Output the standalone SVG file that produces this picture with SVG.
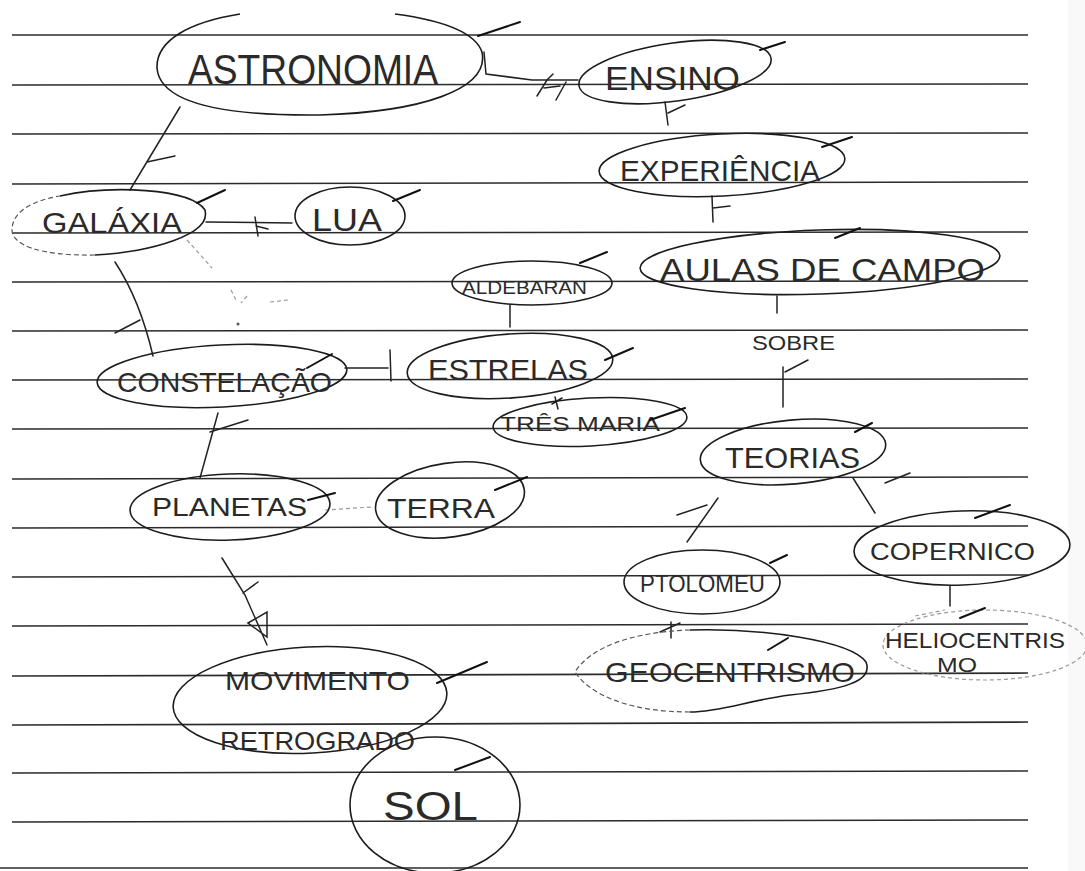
<svg xmlns="http://www.w3.org/2000/svg" width="1085" height="871" viewBox="0 0 1085 871">
<style>
.rule{stroke:#2b2b2b;stroke-width:1.7}
.node{fill:none;stroke:#1c1c1c;stroke-width:1.6}
.dash{fill:none;stroke:#555;stroke-width:1.2;stroke-dasharray:5 3}
.conn{fill:none;stroke:#222;stroke-width:1.5;stroke-linecap:round}
.faint{fill:none;stroke:#9a9a9a;stroke-width:1.2;stroke-dasharray:4 3}
.tick{fill:none;stroke:#111;stroke-width:2;stroke-linecap:round}
.lbl{font-family:"Liberation Sans",Arial,sans-serif;fill:#2a2a2a}
</style>
<rect width="1085" height="871" fill="#ffffff"/>
<rect x="1068" y="0" width="17" height="871" fill="#f9f9f9"/>
<g id="rules">
<line class="rule" x1="12" y1="35" x2="1028" y2="35"/>
<line class="rule" x1="12" y1="85" x2="1028" y2="84"/>
<line class="rule" x1="12" y1="134" x2="1028" y2="133"/>
<line class="rule" x1="12" y1="184" x2="1028" y2="182"/>
<line class="rule" x1="12" y1="233" x2="1028" y2="232"/>
<line class="rule" x1="12" y1="282" x2="1028" y2="281"/>
<line class="rule" x1="12" y1="331" x2="1028" y2="330"/>
<line class="rule" x1="12" y1="380" x2="1028" y2="379"/>
<line class="rule" x1="12" y1="429" x2="1028" y2="428"/>
<line class="rule" x1="12" y1="479" x2="1028" y2="477"/>
<line class="rule" x1="12" y1="528" x2="1028" y2="526"/>
<line class="rule" x1="12" y1="577" x2="1028" y2="575"/>
<line class="rule" x1="12" y1="626" x2="1028" y2="624"/>
<line class="rule" x1="12" y1="676" x2="1028" y2="673"/>
<line class="rule" x1="12" y1="725" x2="1028" y2="722"/>
<line class="rule" x1="12" y1="773" x2="1028" y2="771"/>
<line class="rule" x1="12" y1="822" x2="1028" y2="820"/>
<line class="rule" x1="0" y1="868" x2="1028" y2="868"/>
</g>
<g id="connectors">
<path class="conn" d="M484,52 L486,74 L532,80 L578,80"/>
<path class="conn" d="M537,96 L547,80 L553,74 M544,88 L560,86 M556,100 L566,82"/>
<path class="conn" d="M665,102 L668,125 M668,113 L685,105"/>
<path class="conn" d="M712,196 L713,222 M713,208 L730,206"/>
<path class="conn" d="M180,107 L130,190 M147,162 L175,156"/>
<path class="conn" d="M206,222 L292,223"/>
<path class="conn" d="M255,217 L258,236 M256,226 L268,229"/>
<path class="conn" d="M115,262 Q140,300 153,356 M115,333 L140,320"/>
<path class="faint" d="M187,240 L212,268"/>
<path class="faint" d="M231,290 L236,300 M247,296 L241,303 M270,302 L288,300"/>
<circle cx="238" cy="324" r="1.5" fill="#555"/>
<path class="conn" d="M345,368 L388,368 M390,350 L391,381"/>
<path class="conn" d="M510,305 L510,327"/>
<path class="conn" d="M555,397 L558,409 M552,404 L562,398"/>
<path class="conn" d="M777,296 L777,313"/>
<path class="conn" d="M783,367 L783,407 M785,372 L808,360"/>
<path class="conn" d="M853,478 L875,513 M885,483 L910,473"/>
<path class="conn" d="M718,498 L687,542 M677,515 L707,505"/>
<path class="conn" d="M950,586 L950,606"/>
<path class="conn" d="M671,622 L671,638 M660,632 L680,623"/>
<path class="conn" d="M218,413 L200,478 M210,432 L248,420"/>
<path class="faint" d="M325,510 L372,507"/>
<path class="conn" d="M222,558 L245,595 L267,645 M243,593 L258,582 M248,623 L267,612 L267,637 Z"/>
</g>
<g id="astronomia">
<path class="node" d="M482,52 C490,90 420,112 320,115 C230,116 160,105 157,68 C156,40 190,22 240,14 M395,14 C440,20 475,32 482,52"/>
<text class="lbl" x="188" y="84" font-size="42" textLength="250" lengthAdjust="spacingAndGlyphs">ASTRONOMIA</text>
<path class="tick" d="M478,36 L520,22"/>
</g>
<g id="ensino">
<ellipse class="node" cx="675" cy="72" rx="97" ry="29" transform="rotate(-8 675 72)"/>
<text class="lbl" x="605" y="90" font-size="34" textLength="135" lengthAdjust="spacingAndGlyphs">ENSINO</text>
<path class="tick" d="M760,50 L785,42"/>
</g>
<g id="experiencia">
<ellipse class="node" cx="722" cy="165" rx="123" ry="31" transform="rotate(-3 722 165)"/>
<text class="lbl" x="620" y="181" font-size="30" textLength="200" lengthAdjust="spacingAndGlyphs">EXPERIÊNCIA</text>
<path class="tick" d="M822,147 L852,137"/>
</g>
<g id="aulas-de-campo">
<ellipse class="node" cx="820" cy="262" rx="180" ry="32" transform="rotate(-2 820 262)"/>
<text class="lbl" x="660" y="281" font-size="32" textLength="325" lengthAdjust="spacingAndGlyphs">AULAS DE CAMPO</text>
<path class="tick" d="M835,238 L860,228"/>
</g>
<g id="aldebaran">
<ellipse class="node" cx="532" cy="283" rx="80" ry="22"/>
<text class="lbl" x="462" y="294" font-size="18" textLength="125" lengthAdjust="spacingAndGlyphs">ALDEBARAN</text>
<path class="tick" d="M580,263 L607,252"/>
</g>
<g id="galaxia">
<path class="node" d="M60,196 C110,185 190,188 205,210 C212,235 150,252 95,255"/>
<path class="dash" d="M95,255 C40,256 10,245 12,228 C14,210 35,200 60,196"/>
<text class="lbl" x="42" y="233" font-size="30" textLength="140" lengthAdjust="spacingAndGlyphs">GALÁXIA</text>
<path class="tick" d="M197,203 L225,190"/>
</g>
<g id="lua">
<ellipse class="node" cx="350" cy="216" rx="55" ry="29"/>
<text class="lbl" x="312" y="231" font-size="32" textLength="70" lengthAdjust="spacingAndGlyphs">LUA</text>
<path class="tick" d="M393,201 L420,190"/>
</g>
<g id="constelacao">
<ellipse class="node" cx="222" cy="376" rx="125" ry="31" transform="rotate(-3 222 376)"/>
<text class="lbl" x="117" y="392" font-size="28" textLength="215" lengthAdjust="spacingAndGlyphs">CONSTELAÇÃO</text>
<path class="tick" d="M307,368 L332,354"/>
</g>
<g id="estrelas">
<ellipse class="node" cx="510" cy="366" rx="103" ry="32" transform="rotate(-4 510 366)"/>
<text class="lbl" x="428" y="380" font-size="30" textLength="160" lengthAdjust="spacingAndGlyphs">ESTRELAS</text>
<path class="tick" d="M605,360 L633,348"/>
</g>
<g id="tres-maria">
<ellipse class="node" cx="590" cy="422" rx="97" ry="24" transform="rotate(-3 590 422)"/>
<text class="lbl" x="500" y="431" font-size="20" textLength="160" lengthAdjust="spacingAndGlyphs">TRÊS MARIA</text>
<path class="tick" d="M650,420 L685,408"/>
</g>
<g id="sobre">
<text class="lbl" x="752" y="350" font-size="20" textLength="83" lengthAdjust="spacingAndGlyphs">SOBRE</text>
</g>
<g id="teorias">
<ellipse class="node" cx="793" cy="452" rx="93" ry="32" transform="rotate(-5 793 452)"/>
<text class="lbl" x="725" y="468" font-size="30" textLength="135" lengthAdjust="spacingAndGlyphs">TEORIAS</text>
<path class="tick" d="M855,432 L872,423"/>
</g>
<g id="copernico">
<ellipse class="node" cx="962" cy="548" rx="108" ry="37" transform="rotate(-2 962 548)"/>
<text class="lbl" x="870" y="560" font-size="24" textLength="165" lengthAdjust="spacingAndGlyphs">COPERNICO</text>
<path class="tick" d="M975,518 L1010,505"/>
</g>
<g id="heliocentrismo">
<ellipse class="faint" cx="985" cy="645" rx="102" ry="35"/>
<text class="lbl" x="885" y="648" font-size="22" textLength="180" lengthAdjust="spacingAndGlyphs">HELIOCENTRIS</text>
<text class="lbl" x="937" y="672" font-size="20" textLength="40" lengthAdjust="spacingAndGlyphs">MO</text>
<path class="tick" d="M960,618 L985,608"/>
<path class="faint" d="M915,616 L945,610"/>
</g>
<g id="ptolomeu">
<ellipse class="node" cx="702" cy="582" rx="78" ry="32"/>
<text class="lbl" x="640" y="592" font-size="24" textLength="125" lengthAdjust="spacingAndGlyphs">PTOLOMEU</text>
<path class="tick" d="M770,563 L787,555"/>
</g>
<g id="geocentrismo">
<path class="node" d="M690,630 C760,628 850,640 866,662 C874,682 840,690 790,695 C750,700 720,712 690,712"/>
<path class="dash" d="M690,712 C630,712 590,695 575,672 C590,648 630,632 690,630"/>
<text class="lbl" x="605" y="682" font-size="28" textLength="250" lengthAdjust="spacingAndGlyphs">GEOCENTRISMO</text>
<path class="tick" d="M768,650 L788,638"/>
</g>
<g id="planetas">
<ellipse class="node" cx="230" cy="507" rx="100" ry="33" transform="rotate(-2 230 507)"/>
<text class="lbl" x="152" y="516" font-size="26" textLength="155" lengthAdjust="spacingAndGlyphs">PLANETAS</text>
<path class="tick" d="M308,500 L335,493"/>
</g>
<g id="terra">
<ellipse class="node" cx="450" cy="500" rx="75" ry="37" transform="rotate(-8 450 500)"/>
<text class="lbl" x="387" y="518" font-size="28" textLength="108" lengthAdjust="spacingAndGlyphs">TERRA</text>
<path class="tick" d="M495,490 L527,477"/>
</g>
<g id="movimento-retrogrado">
<ellipse class="node" cx="310" cy="700" rx="137" ry="53" transform="rotate(-3 310 700)"/>
<text class="lbl" x="225" y="690" font-size="26" textLength="185" lengthAdjust="spacingAndGlyphs">MOVIMENTO</text>
<text class="lbl" x="220" y="750" font-size="26" textLength="195" lengthAdjust="spacingAndGlyphs">RETROGRADO</text>
<path class="tick" d="M437,683 L487,662"/>
</g>
<g id="sol">
<ellipse class="node" cx="435" cy="805" rx="85" ry="68"/>
<text class="lbl" x="383" y="820" font-size="40" textLength="95" lengthAdjust="spacingAndGlyphs">SOL</text>
<path class="tick" d="M455,770 L490,757"/>
</g>
</svg>
